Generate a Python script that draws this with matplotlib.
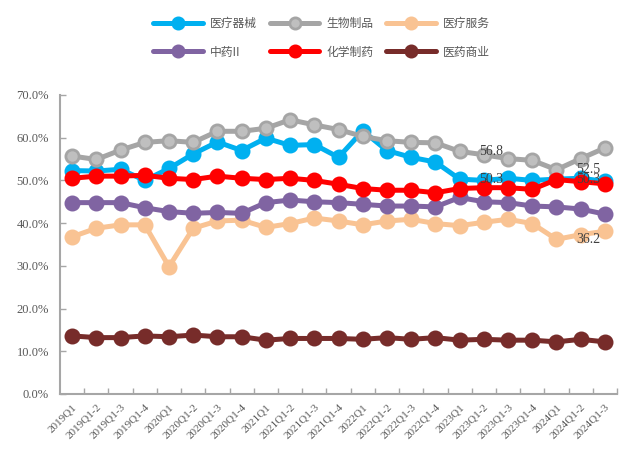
import matplotlib
matplotlib.use('Agg')
import matplotlib.pyplot as plt
from matplotlib.ticker import FixedLocator, FuncFormatter

quarters = ['2019Q1', '2019Q1-2', '2019Q1-3', '2019Q1-4',
            '2020Q1', '2020Q1-2', '2020Q1-3', '2020Q1-4',
            '2021Q1', '2021Q1-2', '2021Q1-3', '2021Q1-4',
            '2022Q1', '2022Q1-2', '2022Q1-3', '2022Q1-4',
            '2023Q1', '2023Q1-2', '2023Q1-3', '2023Q1-4',
            '2024Q1', '2024Q1-2', '2024Q1-3']

yiliao_qixie = [52.3, 52.2, 52.6, 50.0, 52.8, 56.2, 59.0, 57.0, 59.9, 58.2, 58.4, 55.4,
                61.6, 57.0, 55.4, 54.3, 50.3, 50.0, 50.5, 50.0, 50.3, 50.5, 49.8]
shengwu_zhipin = [55.7, 54.9, 57.1, 58.9, 59.3, 58.9, 61.5, 61.5, 62.2, 64.2, 63.0, 61.9,
                  60.3, 59.3, 58.9, 58.8, 56.8, 56.0, 55.1, 54.7, 52.5, 55.1, 57.6]
yiliao_fuwu = [36.8, 38.8, 39.6, 39.6, 29.8, 38.8, 40.5, 40.7, 39.0, 39.9, 41.2, 40.5,
               39.6, 40.5, 40.9, 39.9, 39.4, 40.2, 40.9, 39.9, 36.2, 37.3, 38.1]
zhongyao = [44.8, 44.8, 44.8, 43.6, 42.7, 42.3, 42.5, 42.3, 44.8, 45.4, 45.0, 44.8,
            44.4, 44.0, 44.0, 43.8, 46.0, 45.0, 44.8, 44.0, 43.8, 43.3, 42.1]
huaxue_zhiyao = [50.5, 51.0, 51.0, 51.2, 50.5, 50.2, 51.0, 50.5, 50.2, 50.5, 50.0, 49.1,
                 48.1, 47.7, 47.7, 47.1, 48.1, 48.3, 48.3, 47.9, 50.2, 49.7, 49.2]
yiyao_shangye = [13.6, 13.2, 13.2, 13.6, 13.4, 13.8, 13.4, 13.4, 12.6, 13.0, 13.0, 13.0,
                 12.8, 13.2, 12.8, 13.2, 12.6, 12.8, 12.6, 12.6, 12.2, 12.8, 12.2]

# (series, name, line colour, marker face colour)
series = [
    (yiliao_qixie, '医疗器械', '#00B0F0', '#00B0F0'),
    (shengwu_zhipin, '生物制品', '#A5A5A5', '#BFBFBF'),
    (yiliao_fuwu, '医疗服务', '#F9C393', '#F9C393'),
    (zhongyao, '中药II', '#8064A2', '#8064A2'),
    (huaxue_zhiyao, '化学制药', '#FF0000', '#FF0000'),
    (yiyao_shangye, '医药商业', '#772C2A', '#772C2A'),
]

# which points carry a data label: (series index, point index)
labelled = [(1, 16), (0, 16), (1, 20), (0, 20), (2, 20)]

plt.rcParams['font.family'] = ['Liberation Serif', 'DejaVu Serif']

fig = plt.figure(figsize=(6.22, 4.51), dpi=100)
ax = fig.add_axes([0.0965, 0.1264, 0.8955, 0.663])

x = list(range(len(quarters)))
for vals, name, col, face in series:
    ax.plot(x, vals, color=col, lw=3.6, marker='o', ms=9.5,
            markerfacecolor=face, markeredgecolor=col, markeredgewidth=2,
            label=name, solid_capstyle='round')

for si, pi in labelled:
    v = series[si][0][pi]
    ax.annotate('{:.1f}'.format(v), (pi, v), xytext=(14, 0), textcoords='offset points',
                ha='left', va='center', fontsize=10, color='#404040')

ax.set_xlim(-0.5, len(quarters) - 0.5)
ax.set_ylim(0, 70)
ax.set_yticks(range(0, 71, 10))
ax.yaxis.set_major_formatter(FuncFormatter(lambda v, p: '{:.1f}%'.format(v)))

ax.set_xticks(x)
ax.set_xticklabels(quarters, rotation=45, ha='right', rotation_mode='anchor')
ax.xaxis.set_minor_locator(FixedLocator([i + 0.5 for i in range(len(quarters))]))
ax.tick_params(axis='x', which='major', length=0, pad=6, labelsize=8, labelcolor='#595959')
ax.tick_params(axis='x', which='minor', length=4, direction='in', color='#A6A6A6', width=1)
ax.tick_params(axis='y', length=4, direction='in', color='#A6A6A6', width=1,
               labelsize=9, labelcolor='#595959', pad=8)

for s in ['top', 'right']:
    ax.spines[s].set_visible(False)
for s in ['left', 'bottom']:
    ax.spines[s].set_color('#A6A6A6')
    ax.spines[s].set_linewidth(1.5)

# legend fills column by column, so reorder to read row by row like the original
handles, labels = ax.get_legend_handles_labels()
order = [0, 3, 1, 4, 2, 5]
leg = fig.legend([handles[i] for i in order], [labels[i] for i in order],
                 loc='center', bbox_to_anchor=(0.517, 0.916), ncol=3, frameon=False,
                 prop={'family': ['Noto Sans CJK SC', 'DejaVu Sans'], 'size': 8.5},
                 handlelength=4.2, handletextpad=0.6, columnspacing=1.1,
                 labelspacing=1.3, markerscale=0.85)
for t in leg.get_texts():
    t.set_color('#595959')

fig.savefig('out.png', dpi=100)
